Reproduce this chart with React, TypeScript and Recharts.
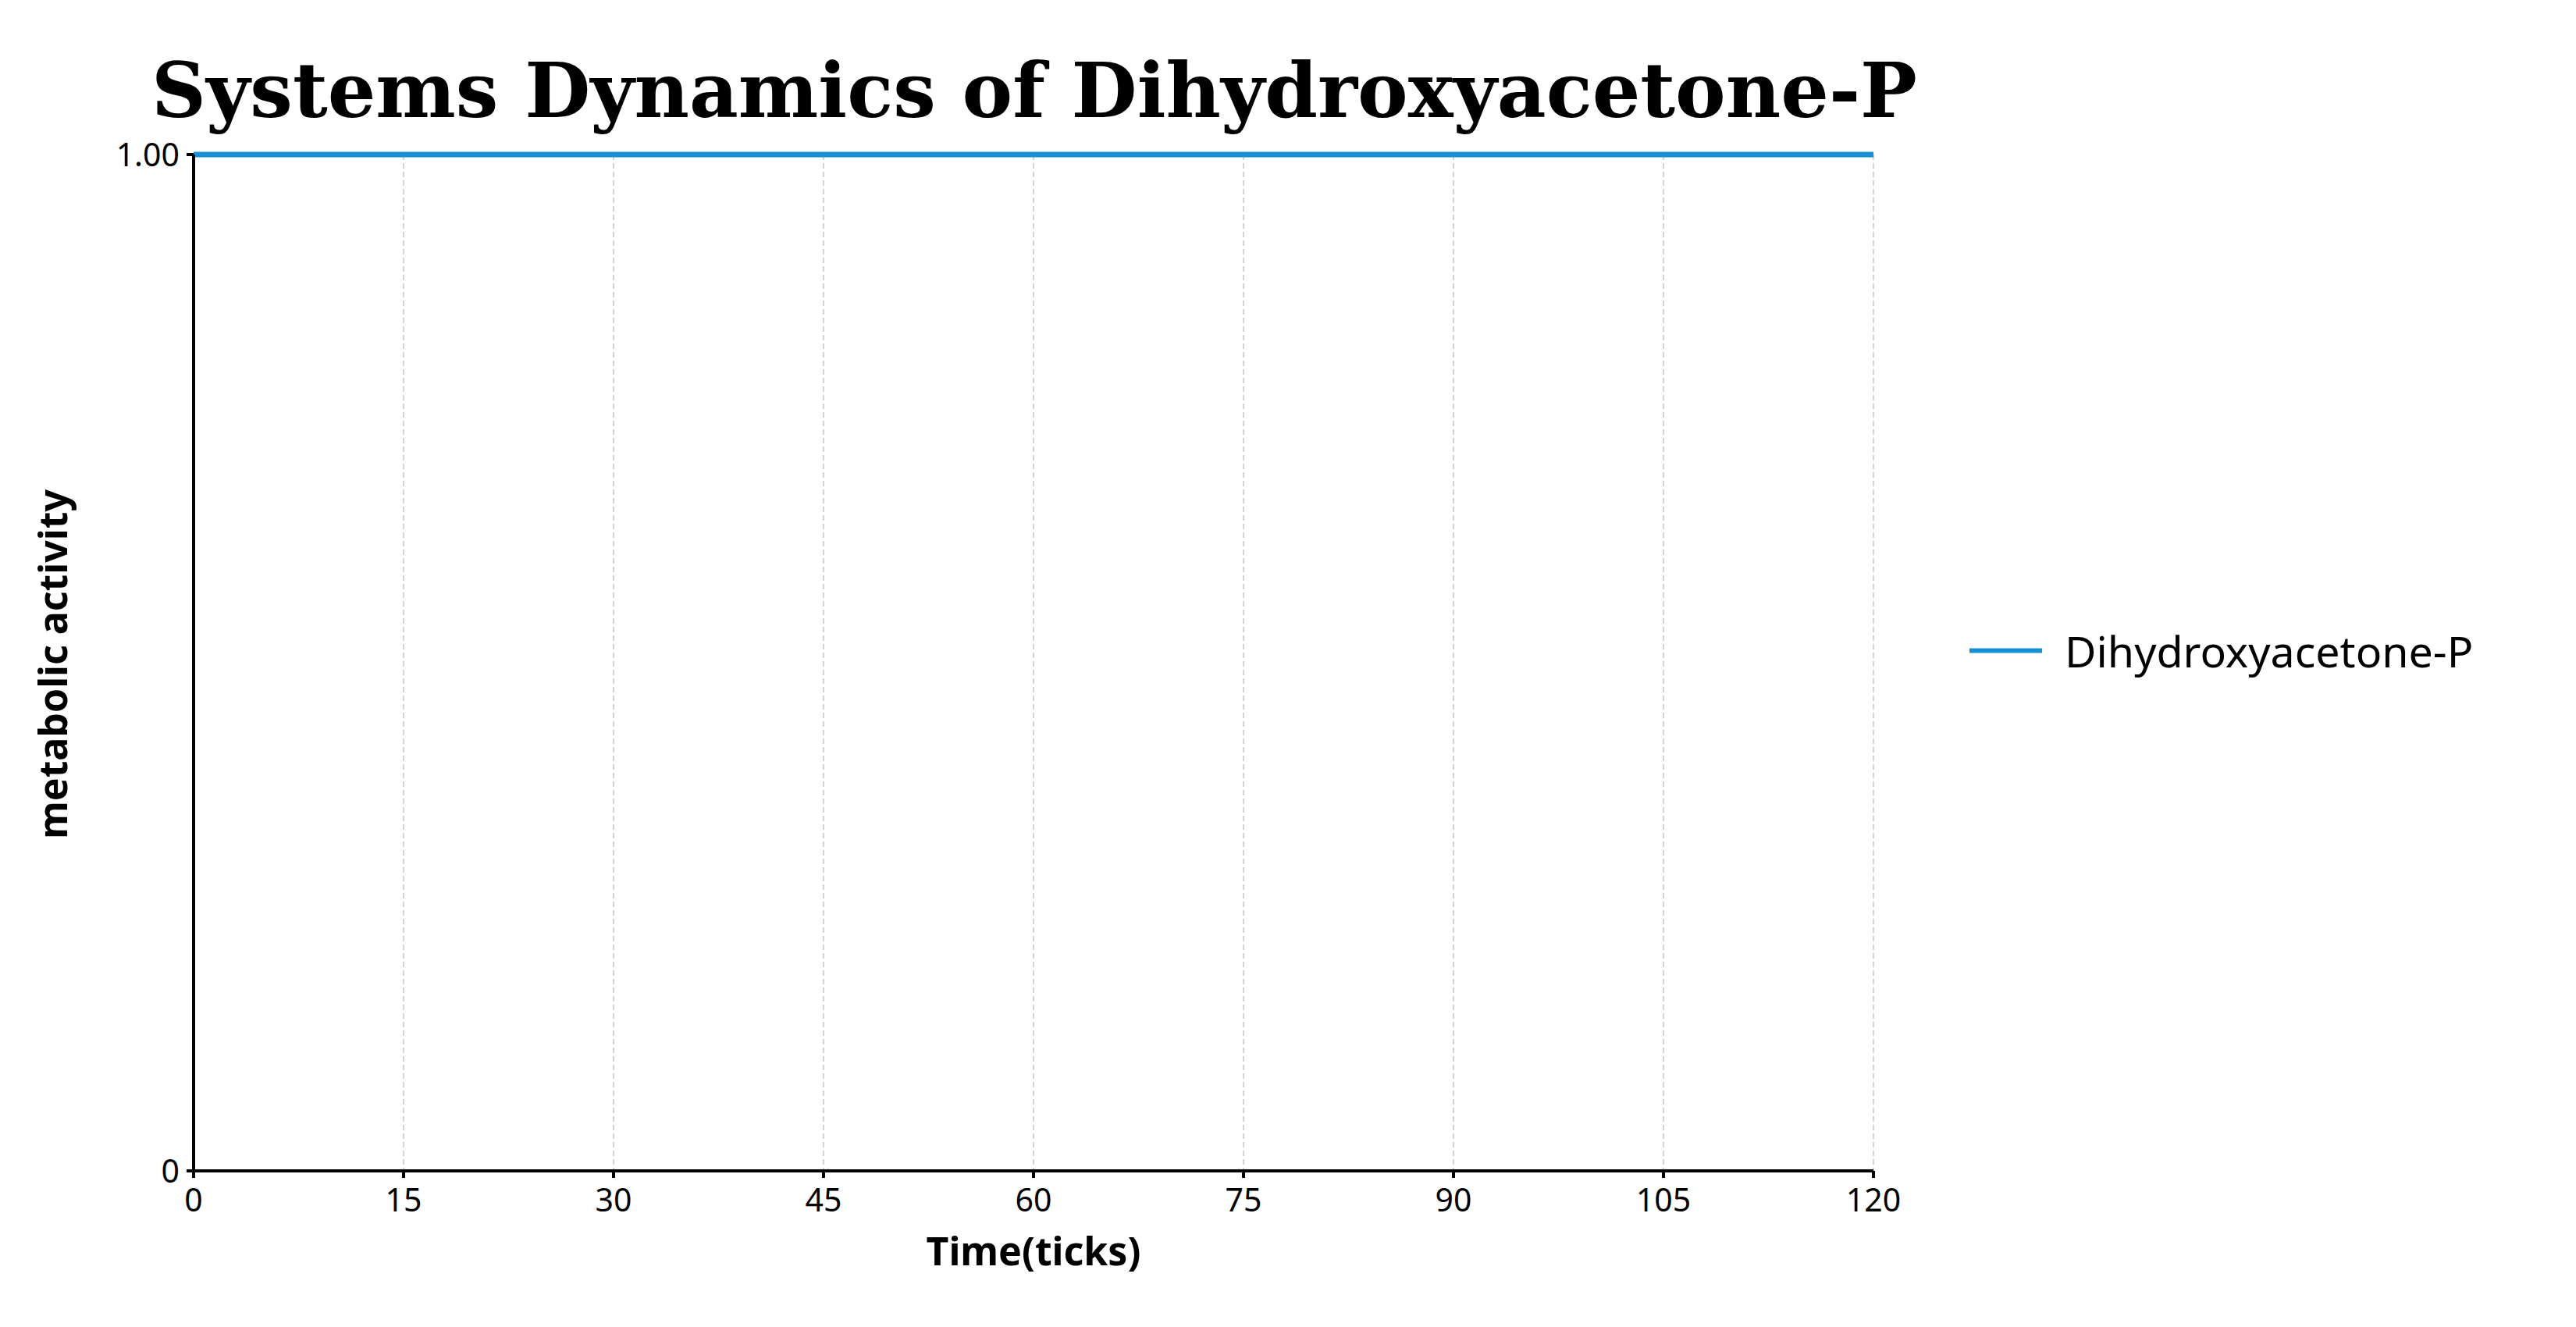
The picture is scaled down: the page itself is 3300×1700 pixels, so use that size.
import React from 'react';
import { LineChart, Line, XAxis, YAxis, CartesianGrid } from 'recharts';

const chartTitle = 'Systems Dynamics of Dihydroxyacetone-P';
const seriesName = 'Dihydroxyacetone-P';
const xLabel = 'Time(ticks)';
const yLabel = 'metabolic activity';

const times = [0, 5, 10, 15, 20, 25, 30, 35, 40, 45, 50, 55, 60, 65, 70, 75, 80, 85, 90, 95, 100, 105, 110, 115, 120];
const activity = [1, 1, 1, 1, 1, 1, 1, 1, 1, 1, 1, 1, 1, 1, 1, 1, 1, 1, 1, 1, 1, 1, 1, 1, 1];

const xTicks = [0, 15, 30, 45, 60, 75, 90, 105, 120];
const yTicks = [0, 1];
const yTickLabels = ['0', '1.00'];

const lineColor = '#1590d4';
const font = '"Noto Sans", "Open Sans", sans-serif';

const App: React.FC = () => {
  const data = times.map((t, i) => ({ time: t, value: activity[i] }));

  const yLabelContent = (props: any) => {
    const vb = props.viewBox || {};
    const cx = 67;
    const cy = (vb.y ?? 198) + (vb.height ?? 1302) / 2 + 2;
    return (
      <text
        x={cx}
        y={cy}
        transform={`rotate(-90 ${cx} ${cy})`}
        textAnchor="middle"
        dominantBaseline="central"
        fontFamily={font}
        fontWeight="bold"
        fontSize={50}
        fill="#000"
      >
        {yLabel}
      </text>
    );
  };

  return (
    <div style={{ position: 'absolute', left: 0, top: 0, width: 3300, height: 1700, background: '#fff' }}>
      <svg width={3300} height={200} style={{ position: 'absolute', left: 0, top: 0 }}>
        <text
          x={194}
          y={150}
          textLength={2262}
          lengthAdjust="spacingAndGlyphs"
          fontFamily='"DejaVu Serif", "Liberation Serif", serif'
          fontWeight="bold"
          fontSize={98}
          fill="#000"
        >
          {chartTitle}
        </text>
      </svg>

      <div style={{ position: 'absolute', left: 0, top: 0 }}>
        <LineChart
          width={3300}
          height={1700}
          data={data}
          margin={{ top: 198, right: 900, left: 48, bottom: 70 }}
        >
          <CartesianGrid horizontal={false} stroke="#d4d4d4" strokeWidth={2} strokeDasharray="7 4" />
          <XAxis
            dataKey="time"
            type="number"
            domain={[0, 120]}
            ticks={xTicks}
            interval={0}
            height={130}
            stroke="#000"
            axisLine={{ stroke: '#000', strokeWidth: 4 }}
            tickLine={{ stroke: '#000', strokeWidth: 4 }}
            tickSize={9}
            tickMargin={14}
            tick={{ fill: '#000', fontFamily: font, fontSize: 41 }}
            label={{
              value: xLabel,
              position: 'insideBottom',
              offset: 9,
              fill: '#000',
              fontFamily: font,
              fontWeight: 'bold',
              fontSize: 50,
            }}
          />
          <YAxis
            domain={[0, 1]}
            ticks={yTicks}
            interval={0}
            width={200}
            tickFormatter={(v: number) => yTickLabels[yTicks.indexOf(v)] ?? String(v)}
            axisLine={{ stroke: '#000', strokeWidth: 4 }}
            tickLine={{ stroke: '#000', strokeWidth: 4 }}
            tickSize={9}
            tickMargin={9}
            tick={{ fill: '#000', fontFamily: font, fontSize: 41 }}
            label={{ content: yLabelContent }}
          />
          <Line
            type="linear"
            dataKey="value"
            stroke={lineColor}
            strokeWidth={7}
            dot={false}
            activeDot={false}
            isAnimationActive={false}
          />
        </LineChart>
      </div>

      <div
        style={{
          position: 'absolute',
          left: 2523,
          top: 833,
          transform: 'translateY(-50%)',
          display: 'flex',
          alignItems: 'center',
          fontFamily: font,
          fontSize: 55.5,
          color: '#000',
          whiteSpace: 'nowrap',
        }}
      >
        <svg width={93} height={10} style={{ marginRight: 29 }}>
          <line x1={0} y1={5} x2={93} y2={5} stroke={lineColor} strokeWidth={6} />
        </svg>
        <span>{seriesName}</span>
      </div>
    </div>
  );
};

export default App;
